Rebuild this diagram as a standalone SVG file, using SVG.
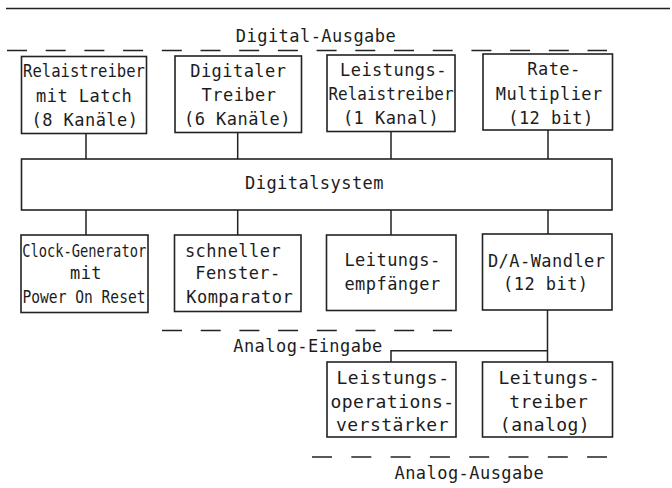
<svg xmlns="http://www.w3.org/2000/svg" width="672" height="488" viewBox="0 0 672 488">
<style>
  .box{fill:none;stroke:#222;stroke-width:1.6}
  .ln{fill:none;stroke:#222;stroke-width:1.5}
  .dash{fill:none;stroke:#222;stroke-width:1.6;stroke-dasharray:20 18.7}
  text{font-family:"DejaVu Sans Mono","Liberation Mono",monospace;font-size:17px;letter-spacing:0.45px;fill:#1c1c1c;text-anchor:middle}
  .sq{letter-spacing:0}
</style>
<rect width="672" height="488" fill="#fff"/>
<line class="ln" x1="6" y1="8.5" x2="670" y2="8.5"/>
<g id="legend-digital-ausgabe">
  <line class="dash" x1="7" y1="50.5" x2="607" y2="50.5"/>
  <text x="316" y="41.5">Digital-Ausgabe</text>
</g>
<g id="legend-analog-eingabe">
  <line class="dash" x1="162" y1="330.5" x2="452" y2="330.5"/>
  <text x="308" y="351.5">Analog-Eingabe</text>
</g>
<g id="legend-analog-ausgabe">
  <line class="dash" x1="312" y1="457" x2="607" y2="457" style="stroke-dasharray:20 19.3"/>
  <text x="469.3" y="478.5">Analog-Ausgabe</text>
</g>
<g id="connectors">
  <path class="ln" d="M86 133.5V159M237.7 132.5V159M391 131.5V159M548 130V159"/>
  <path class="ln" d="M86 210V235M237.7 210V235M391 210V235M548 210V234"/>
  <path class="ln" d="M547.5 310V362M547.5 350.7H391V362"/>
</g>
<g id="relaistreiber">
  <rect class="box" x="21.5" y="56.5" width="125" height="77"/>
  <text class="sq" x="84" y="76.5" textLength="122" lengthAdjust="spacingAndGlyphs">Relaistreiber</text>
  <text x="84.2" y="101.5">mit Latch</text>
  <text x="85" y="126">(8 Kanäle)</text>
</g>
<g id="digitaler-treiber">
  <rect class="box" x="175" y="56" width="126.5" height="76.5"/>
  <text x="238.3" y="77">Digitaler</text>
  <text x="239" y="101">Treiber</text>
  <text x="237.5" y="125">(6 Kanäle)</text>
</g>
<g id="leistungs-relaistreiber">
  <rect class="box" x="327" y="55" width="128" height="76.5"/>
  <text x="393.5" y="76">Leistungs-</text>
  <text class="sq" x="391" y="99.5" textLength="125" lengthAdjust="spacingAndGlyphs">Relaistreiber</text>
  <text x="391" y="123.5">(1 Kanal)</text>
</g>
<g id="rate-multiplier">
  <rect class="box" x="483" y="54" width="129.5" height="76"/>
  <text x="554" y="75">Rate-</text>
  <text x="549.3" y="99.5">Multiplier</text>
  <text x="551" y="123.5">(12 bit)</text>
</g>
<g id="digitalsystem">
  <rect class="box" x="21.5" y="159" width="590.5" height="51"/>
  <text x="314.5" y="188.5">Digitalsystem</text>
</g>
<g id="clock-generator">
  <rect class="box" x="21" y="235" width="127" height="77.5"/>
  <text class="sq" x="84.2" y="256.5" textLength="124" lengthAdjust="spacingAndGlyphs">Clock-Generator</text>
  <text x="86" y="278.5">mit</text>
  <text class="sq" x="84" y="303" textLength="123" lengthAdjust="spacingAndGlyphs">Power On Reset</text>
</g>
<g id="fenster-komparator">
  <rect class="box" x="174.5" y="235" width="126.5" height="76.5"/>
  <text x="233" y="256.7">schneller</text>
  <text x="238" y="279.3">Fenster-</text>
  <text x="239.7" y="302.7">Komparator</text>
</g>
<g id="leitungsempfaenger">
  <rect class="box" x="326.5" y="235" width="129.5" height="75.5"/>
  <text x="392.5" y="266">Leitungs-</text>
  <text x="392.5" y="290">empfänger</text>
</g>
<g id="da-wandler">
  <rect class="box" x="482.5" y="234" width="129.5" height="76"/>
  <text x="546.7" y="266.5">D/A-Wandler</text>
  <text x="545.8" y="290">(12 bit)</text>
</g>
<g id="leistungsoperationsverstaerker">
  <rect class="box" x="327" y="362" width="129" height="75"/>
  <text x="393" y="384.3" style="font-size:18px">Leistungs-</text>
  <text x="392.5" y="408.3" style="font-size:18px">operations-</text>
  <text x="392.5" y="431" style="font-size:18px">verstärker</text>
</g>
<g id="leitungstreiber">
  <rect class="box" x="482.5" y="362" width="130" height="75"/>
  <text x="549.2" y="384.3" style="font-size:18px">Leitungs-</text>
  <text x="548.8" y="408.3" style="font-size:18px">treiber</text>
  <text x="545" y="431" style="font-size:18px">(analog)</text>
</g>
</svg>
